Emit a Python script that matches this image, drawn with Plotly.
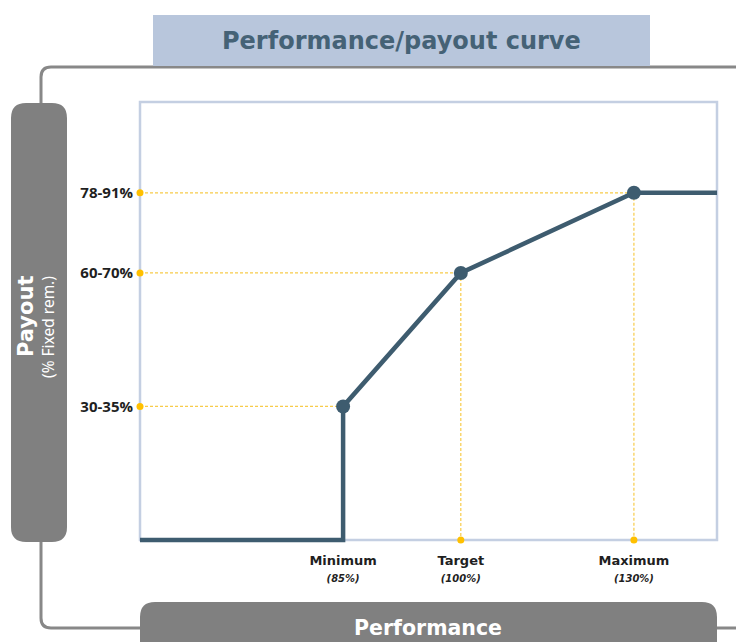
import plotly.graph_objects as go

# Threshold data for the payout curve
levels = ["Minimum", "Target", "Maximum"]
performance = ["85%", "100%", "130%"]
curve_pos = [35.2, 55.6, 85.6]          # position of each threshold along the performance axis (0-100)
payout_labels = ["30-35%", "60-70%", "78-91%"]
payout_mid = [32.5, 65.0, 84.5]          # mid-point of each payout band
y_top = 106.6                            # top of the payout scale

# Colours
LINE = "#3e5c6f"
GOLD = "#ffc000"
GUIDE = "#f8cc4a"
GREY = "#808080"
FRAME = "#888888"
BORDER = "#c4cfe2"

W, H = 736, 642
# plot area in pixels (slightly padded around the drawn border so thick lines are not clipped)
PL, PR, PT, PB = 136, 721, 98, 544
# where x=0/100 and y=0/y_top fall in pixels
X0, X1, Y0, Y1 = 140, 717, 540, 102

ux = (X1 - X0) / 100.0
uy = (Y0 - Y1) / y_top
x_range = [-(X0 - PL) / ux, 100 + (PR - X1) / ux]
y_range = [-(PB - Y0) / uy, y_top + (Y1 - PT) / uy]


def px(x):
    return (x - PL) / (PR - PL)


def py(y):
    return (PB - y) / (PB - PT)


def rounded_rect(x0, y0, x1, y1, r):
    pts = [
        f"M {px(x0 + r)},{py(y0)}",
        f"L {px(x1 - r)},{py(y0)}",
        f"Q {px(x1)},{py(y0)} {px(x1)},{py(y0 + r)}",
        f"L {px(x1)},{py(y1 - r)}",
        f"Q {px(x1)},{py(y1)} {px(x1 - r)},{py(y1)}",
        f"L {px(x0 + r)},{py(y1)}",
        f"Q {px(x0)},{py(y1)} {px(x0)},{py(y1 - r)}",
        f"L {px(x0)},{py(y0 + r)}",
        f"Q {px(x0)},{py(y0)} {px(x0 + r)},{py(y0)}",
        "Z",
    ]
    return " ".join(pts)


fig = go.Figure()

# dashed guides from the axes to each threshold
for i, (xv, yv) in enumerate(zip(curve_pos, payout_mid)):
    fig.add_trace(go.Scatter(
        x=[0, xv], y=[yv, yv], mode="lines",
        line=dict(color=GUIDE, width=1.2, dash="3px,2px"),
        hoverinfo="skip", showlegend=False))
    if i > 0:
        fig.add_trace(go.Scatter(
            x=[xv, xv], y=[yv, 0], mode="lines",
            line=dict(color=GUIDE, width=1.2, dash="3px,2px"),
            hoverinfo="skip", showlegend=False))

# payout curve: zero below minimum, step at minimum, then linear segments, capped above maximum
curve_x = [0, curve_pos[0]] + curve_pos + [100]
curve_y = [0, 0] + payout_mid + [payout_mid[-1]]
fig.add_trace(go.Scatter(
    x=curve_x, y=curve_y, mode="lines",
    line=dict(color=LINE, width=4.5),
    hoverinfo="skip", showlegend=False))

fig.add_trace(go.Scatter(
    x=curve_pos, y=payout_mid, mode="markers",
    marker=dict(color=LINE, size=14),
    cliponaxis=False, hoverinfo="skip", showlegend=False))

# gold dots on the axes
fig.add_trace(go.Scatter(
    x=[0] * len(payout_mid), y=payout_mid, mode="markers",
    marker=dict(color=GOLD, size=7),
    cliponaxis=False, hoverinfo="skip", showlegend=False))
fig.add_trace(go.Scatter(
    x=curve_pos[1:], y=[0] * (len(curve_pos) - 1), mode="markers",
    marker=dict(color=GOLD, size=7),
    cliponaxis=False, hoverinfo="skip", showlegend=False))

x_ticktext = [
    f"<b>{lv}</b><br><b><i><span style='font-size:10px'>({pf})</span></i></b>"
    for lv, pf in zip(levels, performance)
]

shapes = [
    # outer frame
    dict(type="path", xref="paper", yref="paper", layer="below",
         path=(f"M {px(736)},{py(67)} L {px(51)},{py(67)} "
               f"Q {px(41)},{py(67)} {px(41)},{py(77)} "
               f"L {px(41)},{py(618)} Q {px(41)},{py(628)} {px(51)},{py(628)} "
               f"L {px(736)},{py(628)}"),
         line=dict(color=FRAME, width=3)),
    # title band
    dict(type="rect", xref="paper", yref="paper", layer="below",
         x0=px(153), x1=px(650), y0=py(66), y1=py(15),
         fillcolor="#b8c6dc", line=dict(width=0)),
    # payout side box
    dict(type="path", xref="paper", yref="paper", layer="above",
         path=rounded_rect(11, 103, 67, 542, 15),
         fillcolor=GREY, line=dict(width=0)),
    # performance bottom box
    dict(type="path", xref="paper", yref="paper", layer="above",
         path=rounded_rect(140, 602, 717, 660, 15),
         fillcolor=GREY, line=dict(width=0)),
    # plot border
    dict(type="rect", xref="x", yref="y", layer="below",
         x0=0, x1=100, y0=0, y1=y_top,
         line=dict(color=BORDER, width=2.5), fillcolor="rgba(0,0,0,0)"),
]

annotations = [
    dict(text="<b>Performance/payout curve</b>", xref="paper", yref="paper",
         x=px(401), y=py(41), xanchor="center", yanchor="middle", showarrow=False,
         font=dict(family="DejaVu Sans", size=24, color="#456276")),
    dict(text="<b>Performance</b>", xref="paper", yref="paper",
         x=px(428), y=py(628), xanchor="center", yanchor="middle", showarrow=False,
         font=dict(family="DejaVu Sans", size=20.5, color="white")),
    dict(text="<b>Payout</b>", xref="paper", yref="paper", textangle=-90,
         x=px(26), y=py(317), xanchor="center", yanchor="middle", showarrow=False,
         font=dict(family="DejaVu Sans", size=21, color="white")),
    dict(text="(% Fixed rem.)", xref="paper", yref="paper", textangle=-90,
         x=px(48), y=py(327), xanchor="center", yanchor="middle", showarrow=False,
         font=dict(family="Noto Sans", size=15.5, color="white")),
]

fig.update_layout(
    width=W, height=H,
    margin=dict(l=PL, r=W - PR, t=PT, b=H - PB, pad=0),
    paper_bgcolor="white", plot_bgcolor="rgba(0,0,0,0)",
    shapes=shapes, annotations=annotations, showlegend=False,
    xaxis=dict(range=x_range, showgrid=False, zeroline=False, showline=False,
               tickvals=curve_pos, ticktext=x_ticktext,
               ticks="outside", ticklen=4, tickcolor="rgba(0,0,0,0)",
               tickfont=dict(family="DejaVu Sans", size=13, color="#1f1f1f"),
               fixedrange=True),
    yaxis=dict(range=y_range, showgrid=False, zeroline=False, showline=False,
               tickvals=payout_mid, ticktext=[f"<b>{t}</b>" for t in payout_labels],
               ticks="", ticklabelstandoff=2,
               tickfont=dict(family="Open Sans", size=15, color="#1f1f1f"),
               fixedrange=True),
)

fig.write_html("out.html")
